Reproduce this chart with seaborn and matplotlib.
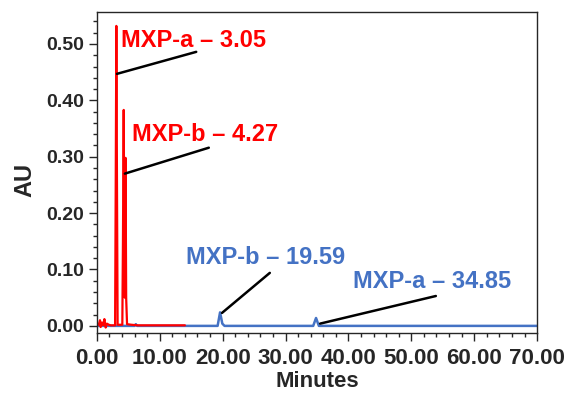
import pandas as pd
import numpy as np
import matplotlib.pyplot as plt
import seaborn as sns
from matplotlib.ticker import MultipleLocator, FormatStrFormatter

# Red trace (early run), minutes / AU
red_time = [0.0, 0.3, 0.5, 0.6, 0.8, 1.0, 1.2, 1.4, 1.6, 1.9, 2.2, 2.9, 3.0, 3.1, 3.2, 3.3,
            4.05, 4.15, 4.27, 4.37, 4.45, 4.56, 4.66, 4.8, 5.5, 6.5, 8.0, 14.0]
red_au = [0.004, 0.002, 0.010, -0.002, 0.006, 0.001, 0.012, -0.003, 0.004, 0.002, 0.001, 0.001, 0.25, 0.532, 0.25, 0.002,
          0.002, 0.15, 0.383, 0.12, 0.05, 0.298, 0.05, 0.003, 0.002, 0.001, 0.001, 0.001]

# Blue trace (long run)
blue_time = [0.0, 6.0, 6.2, 6.4, 19.2, 19.59, 19.95, 20.3, 34.4, 34.85, 35.3, 65.5, 70.0]
blue_au = [0.0, 0.0, 0.003, 0.0, 0.0, 0.024, 0.004, 0.0, 0.0, 0.014, 0.0, 0.0, 0.0]

# Peak labels: text, text pos, line start, line end, colour
labels = ["MXP-a \u2013 3.05", "MXP-b \u2013 4.27", "MXP-b \u2013 19.59", "MXP-a \u2013 34.85"]
text_xy = [(3.9, 0.507), (5.6, 0.339), (14.2, 0.121), (40.8, 0.078)]
line_from = [(3.2, 0.447), (4.45, 0.27), (19.9, 0.023), (35.5, 0.004)]
line_to = [(15.8, 0.486), (17.8, 0.316), (27.5, 0.094), (53.9, 0.053)]

red = "#ff0000"
blue = "#4472c4"
label_colors = [red, red, blue, blue]

sns.set_style("ticks")
plt.rcParams["font.family"] = ["Liberation Sans", "DejaVu Sans"]
plt.rcParams["font.weight"] = "bold"

fig, ax = plt.subplots(figsize=(5.87, 3.94), dpi=100)

blue_df = pd.DataFrame({"Minutes": blue_time, "AU": blue_au})
red_df = pd.DataFrame({"Minutes": red_time, "AU": red_au})
sns.lineplot(data=blue_df, x="Minutes", y="AU", color=blue, linewidth=1.8, ax=ax, sort=False)
sns.lineplot(data=red_df, x="Minutes", y="AU", color=red, linewidth=1.6, ax=ax, sort=False)

for lab, txy, p0, p1, c in zip(labels, text_xy, line_from, line_to, label_colors):
    ax.plot([p0[0], p1[0]], [p0[1], p1[1]], color="black", linewidth=1.8)
    ax.text(txy[0], txy[1], lab, color=c, fontsize=17, fontweight="bold", va="center", ha="left")

ax.set_xlim(0, 70)
ax.set_ylim(-0.0125, 0.557)
ax.xaxis.set_major_locator(MultipleLocator(10))
ax.xaxis.set_minor_locator(MultipleLocator(2))
ax.yaxis.set_major_locator(MultipleLocator(0.1))
ax.yaxis.set_minor_locator(MultipleLocator(0.02))
ax.xaxis.set_major_formatter(FormatStrFormatter("%.2f"))
ax.yaxis.set_major_formatter(FormatStrFormatter("%.2f"))
ax.tick_params(axis="y", which="major", labelsize=14, length=6, width=1, direction="out", pad=3)
ax.tick_params(axis="x", which="major", labelsize=16, length=6, width=1, direction="out", pad=5)
ax.tick_params(axis="both", which="minor", length=3, width=1, direction="out")
for s in ax.spines.values():
    s.set_linewidth(1.0)

ax.set_xlabel("Minutes", fontsize=16, fontweight="bold", labelpad=1)
ax.set_ylabel("AU", fontsize=17, fontweight="bold")
ax.yaxis.set_label_coords(-0.137, 0.476)

plt.subplots_adjust(left=0.165, right=0.915, top=0.97, bottom=0.155)
plt.savefig("out.png", dpi=100)
